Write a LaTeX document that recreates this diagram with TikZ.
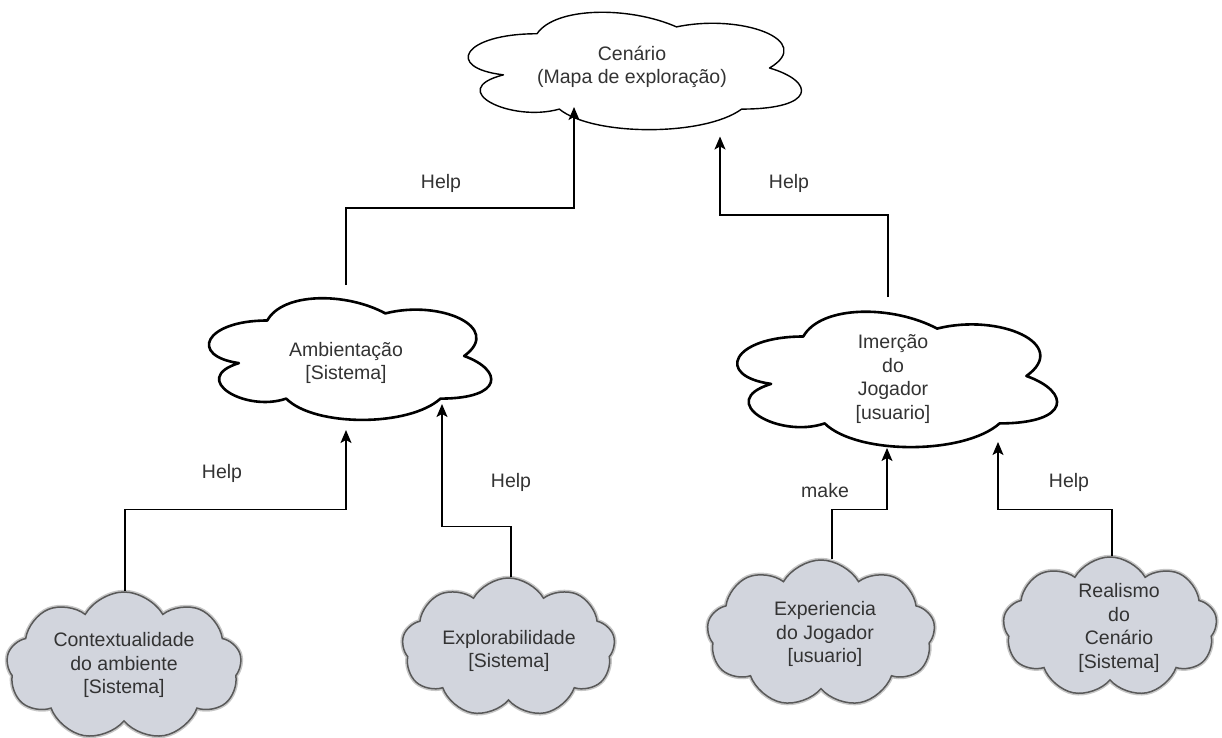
\documentclass[tikz,border=0pt]{standalone}
\usepackage{fontspec}
\setmainfont{Liberation Sans}
\usetikzlibrary{shapes.symbols, arrows.meta}
\definecolor{txtgray}{HTML}{333333}
\definecolor{puffgray}{HTML}{D2D5DD}

% Outlined cloud: name, centre x, centre y, width, height, outline width
\newcommand\flowcloud[6]{%
  \node[minimum width=#4pt, minimum height=#5pt, inner sep=0pt, outer sep=0pt] (#1) at (#2,#3) {};
  \begin{scope}[shift={(#1.north west)}, x={(#4pt,0pt)}, y={(0pt,-#5pt)}]
    \draw[line width=#6, line join=round, fill=white] (0.25,0.25)
      .. controls (0.05,0.25) and (0,0.5) .. (0.16,0.55)
      .. controls (0,0.66) and (0.18,0.9) .. (0.31,0.8)
      .. controls (0.4,1) and (0.7,1) .. (0.8,0.8)
      .. controls (1,0.8) and (1,0.6) .. (0.875,0.5)
      .. controls (1,0.3) and (0.8,0.1) .. (0.625,0.2)
      .. controls (0.5,0.05) and (0.3,0.05) .. (0.25,0.25) -- cycle;
  \end{scope}}

\tikzset{
  lbl/.style={text=txtgray, align=center, inner sep=0pt,
    font=\fontsize{19.5}{23.4}\selectfont},
  puff/.style={cloud, cloud puffs=9, cloud puff arc=120, cloud ignores aspect,
    inner sep=0pt, fill=puffgray, draw=black!65, line width=1.5pt,
    preaction={draw=black!22, line width=4.5pt}},
  conn/.style={draw=black, line width=1.4pt,
    -{Stealth[length=13pt, width=11pt, inset=3pt]}},
}

\begin{document}
\begin{tikzpicture}[x=1pt, y=-1pt]
\useasboundingbox (0,0) rectangle (1222,738);

% upper clouds
\flowcloud{top}{630}{68}{372}{137}{1.4pt}
\node[lbl] (top-t) at (632,67) {Cenário\\(Mapa de exploração)};

\flowcloud{amb}{346}{356}{315}{142}{2.6pt}
\node[lbl] (amb-t) at (346,363) {Ambientação\\{[Sistema]}};

\flowcloud{imer}{892.5}{376}{357}{158}{2.6pt}
\node[lbl] (imer-t) at (893,379) {Imerção\\do\\Jogador\\{[usuario]}};

% lower grey clouds
\node[puff, minimum width=235pt, minimum height=148pt] (ctx) at (124,666) {};
\node[lbl] (ctx-t) at (124,665) {Contextualidade\\do ambiente\\{[Sistema]}};

\node[puff, minimum width=213pt, minimum height=139pt] (xpl) at (508.5,647.5) {};
\node[lbl] (xpl-t) at (509,651) {Explorabilidade\\{[Sistema]}};

\node[puff, minimum width=228pt, minimum height=147pt] (epx) at (821,633.5) {};
\node[lbl] (epx-t) at (825,634) {Experiencia\\do Jogador\\{[usuario]}};

\node[puff, minimum width=214pt, minimum height=140pt] (rea) at (1110,627) {};
\node[lbl] (rea-t) at (1119,628) {Realismo\\do\\Cenário\\{[Sistema]}};

% connectors
\draw[conn] (amb.north) -- ++(0,-77) -| ([xshift=-56pt, yshift=29.5pt]top.south);
\draw[conn] ([xshift=-4.5pt]imer.north) -- ++(0,-82) -| ([xshift=90pt]top.south);
\draw[conn] ([xshift=1pt]ctx.north) -- ++(0,-82) -| ([yshift=-3pt]amb.south);
\draw[conn] ([xshift=2.5pt]xpl.north) -- ++(0,-51) -| ([xshift=96pt, yshift=23pt]amb.south);
\draw[conn] ([xshift=11pt]epx.north) -- ++(0,-50) -| ([xshift=-5.5pt, yshift=7pt]imer.south);
\draw[conn] ([xshift=2pt]rea.north) -- ++(0,-47) -| ([xshift=105.5pt, yshift=13pt]imer.south);

% connector labels
\node[lbl] (h1) at (441,183) {Help};
\node[lbl] (h2) at (789,183) {Help};
\node[lbl] (h3) at (222,473) {Help};
\node[lbl] (h4) at (511,482) {Help};
\node[lbl] (m5) at (825,491) {make};
\node[lbl] (h6) at (1069,482) {Help};
\end{tikzpicture}
\end{document}
